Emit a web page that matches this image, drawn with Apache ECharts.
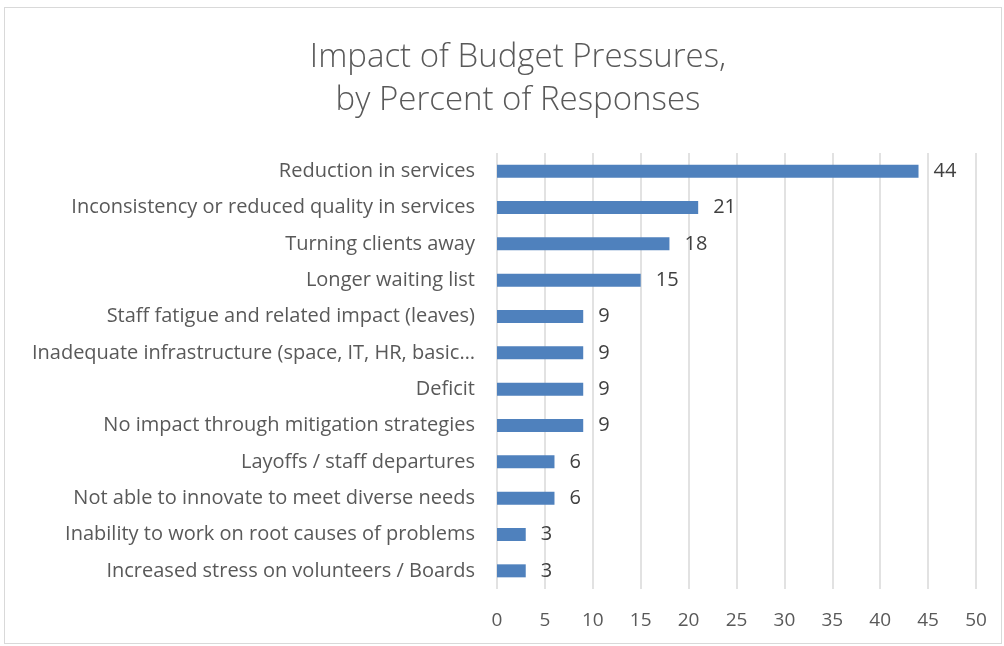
<!DOCTYPE html>
<html>
<head>
<meta charset="utf-8">
<script src="https://cdn.jsdelivr.net/npm/echarts@6/dist/echarts.min.js"></script>
<style>
    html, body { margin: 0; padding: 0; background: #ffffff; }
    #chart {
        position: absolute;
        left: 4px;
        top: 7px;
        width: 998px;
        height: 637px;
        border: 1px solid #d9d9d9;
        box-sizing: border-box;
    }
</style>
</head>
<body>
<div id="chart"></div>
<script>
const categories = [
    'Reduction in services',
    'Inconsistency or reduced quality in services',
    'Turning clients away',
    'Longer waiting list',
    'Staff fatigue and related impact (leaves)',
    'Inadequate infrastructure (space, IT, HR, basic…',
    'Deficit',
    'No impact through mitigation strategies',
    'Layoffs / staff departures',
    'Not able to innovate to meet diverse needs',
    'Inability to work on root causes of problems',
    'Increased stress on volunteers / Boards'
];
const percents = [44, 21, 18, 15, 9, 9, 9, 9, 6, 6, 3, 3];
const xTicks = [0, 50, 5];   // min, max, interval

const fontFamily = '"Open Sans", "Noto Sans", sans-serif';
const chart = echarts.init(document.getElementById('chart'));

const option = {
    animation: false,
    title: {
        text: 'Impact of Budget Pressures,\nby Percent of Responses',
        left: 508,
        top: 23,
        textAlign: 'center',
        textStyle: {
            fontFamily: fontFamily,
            fontWeight: 300,
            fontSize: 33,
            lineHeight: 43,
            color: '#595959'
        }
    },
    grid: {
        left: 492,
        right: 25,
        top: 145,
        bottom: 54
    },
    xAxis: {
        type: 'value',
        min: xTicks[0],
        max: xTicks[1],
        interval: xTicks[2],
        axisLine: { show: false },
        axisTick: { show: false },
        axisLabel: {
            fontFamily: fontFamily,
            fontSize: 19,
            color: '#595959',
            margin: 22
        },
        splitLine: {
            show: true,
            lineStyle: { color: '#d9d9d9', width: 1.5 }
        }
    },
    yAxis: {
        type: 'category',
        inverse: true,
        data: categories,
        axisLine: { show: false },
        axisTick: { show: false },
        axisLabel: {
            fontFamily: fontFamily,
            fontSize: 20,
            color: '#595959',
            margin: 22
        }
    },
    series: [
        {
            type: 'bar',
            data: percents,
            barWidth: 13,
            itemStyle: { color: '#4f81bd' },
            label: {
                show: true,
                position: 'right',
                distance: 15,
                fontFamily: fontFamily,
                fontSize: 20,
                color: '#404040'
            }
        }
    ]
};

chart.setOption(option);
</script>
</body>
</html>
